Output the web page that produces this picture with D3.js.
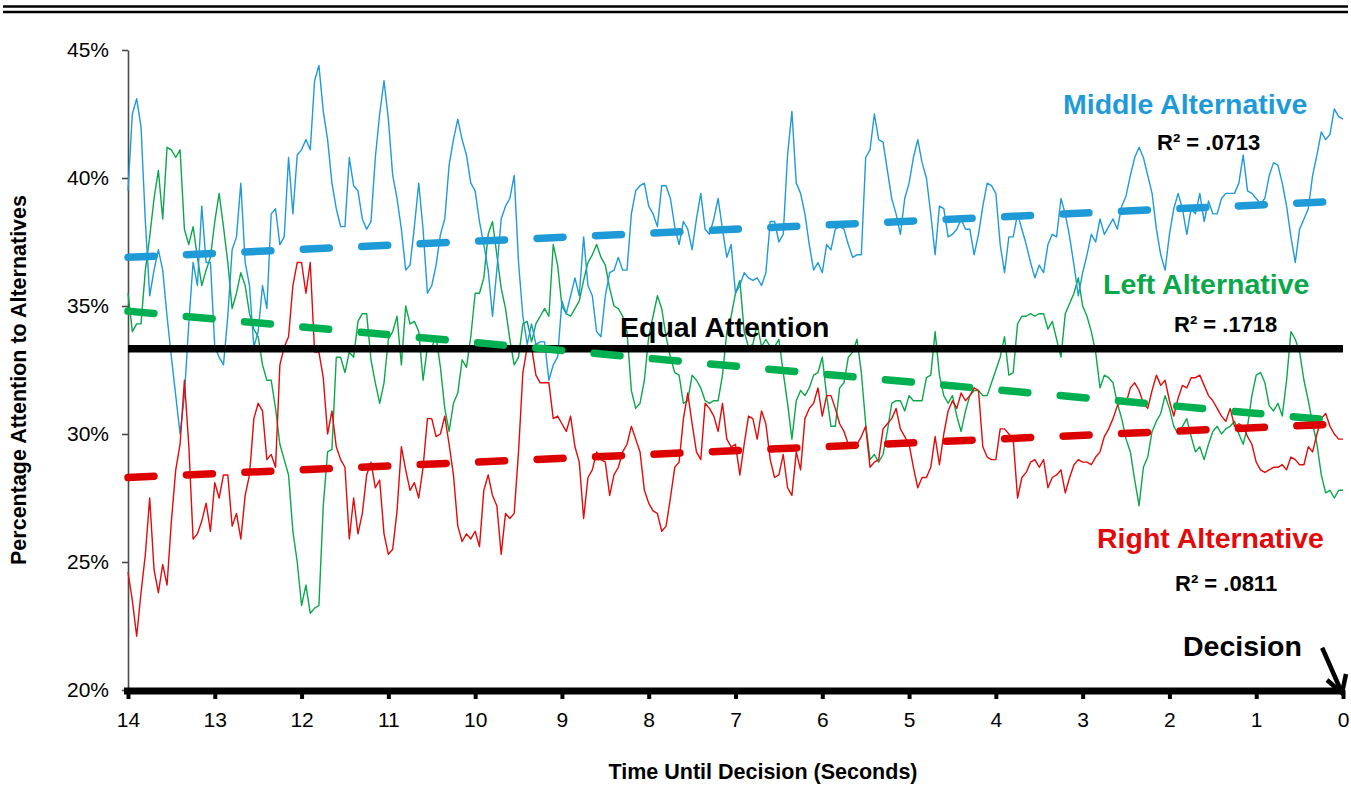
<!DOCTYPE html>
<html>
<head>
<meta charset="utf-8">
<script src="https://cdn.jsdelivr.net/npm/d3@7"></script>
<style>
  html, body { margin: 0; padding: 0; background: #fff; }
  svg { display: block; }
  text { font-family: "Liberation Sans", Arial, Helvetica, sans-serif; }
</style>
</head>
<body>
<svg id="chart" width="1351" height="810"></svg>
<script>
// Seconds before the decision (axis runs from 14 down to 0)
const secondsTicks = [14, 13, 12, 11, 10, 9, 8, 7, 6, 5, 4, 3, 2, 1, 0];
const percentTicks = [20, 25, 30, 35, 40, 45];
const startSecond = 14;
const sampleStep = 0.05; // one reading every 50 ms

// Share of attention (%) on each alternative, one value per sample
const middleAlternative = [
  39.5, 42.5, 43.1, 42.0, 38.3, 35.4, 36.4, 37.2, 36.4, 34.6,
  33.0, 31.5, 30.0, 31.5, 34.3, 36.7, 35.8, 38.9, 36.7, 36.7,
  33.4, 33.0, 32.7, 34.6, 37.2, 37.7, 39.8, 36.7, 35.8, 33.4,
  34.0, 35.8, 34.9, 38.6, 38.8, 37.4, 37.7, 40.8, 38.6, 40.9,
  41.1, 41.5, 41.1, 43.8, 44.4, 42.6, 41.5, 39.8, 38.8, 38.1,
  38.1, 40.8, 39.7, 39.5, 38.4, 38.0, 38.3, 40.8, 42.5, 43.8,
  42.3, 40.1, 39.2, 38.0, 36.4, 36.6, 38.1, 39.8, 38.0, 35.5,
  35.8, 36.6, 37.8, 38.4, 40.5, 41.5, 42.3, 41.5, 40.9, 39.8,
  39.5, 38.3, 37.4, 36.4, 34.6, 36.4, 38.4, 38.9, 39.2, 40.1,
  36.7, 34.6, 33.5, 34.3, 33.5, 33.6, 33.6, 32.1, 32.7, 33.0,
  35.2, 34.7, 35.4, 36.1, 35.4, 37.7, 35.8, 35.4, 34.0, 33.8,
  35.4, 36.3, 36.4, 36.9, 36.4, 36.4, 38.6, 39.5, 39.7, 39.8,
  38.9, 38.6, 38.1, 39.7, 39.7, 39.2, 38.1, 37.4, 38.3, 38.0,
  37.2, 38.4, 39.4, 38.0, 37.8, 38.4, 39.2, 38.0, 36.9, 37.4,
  35.5, 35.8, 36.3, 36.1, 36.0, 36.1, 35.8, 36.3, 38.3, 38.3,
  37.5, 37.8, 40.9, 42.6, 39.8, 39.4, 38.6, 37.4, 36.4, 36.7,
  36.3, 37.4, 37.2, 38.0, 38.1, 38.0, 37.4, 36.9, 37.0, 37.0,
  40.8, 41.1, 42.5, 41.5, 41.4, 40.3, 39.2, 38.6, 37.8, 39.2,
  39.8, 40.8, 41.5, 40.6, 40.0, 38.6, 37.0, 38.9, 38.8, 37.7,
  37.8, 38.0, 38.4, 38.0, 38.0, 37.0, 37.8, 38.9, 39.8, 39.7,
  39.4, 37.4, 36.3, 37.7, 37.7, 38.6, 38.0, 37.4, 36.7, 36.1,
  36.6, 36.3, 37.4, 37.8, 37.7, 39.2, 38.6, 37.7, 36.6, 35.4,
  36.3, 37.0, 37.8, 37.5, 38.4, 37.8, 38.1, 38.4, 38.0, 38.9,
  39.3, 40.1, 40.8, 41.2, 40.8, 40.1, 39.4, 38.0, 37.0, 36.4,
  37.8, 38.8, 39.4, 38.8, 37.8, 38.8, 38.6, 39.4, 38.3, 39.1,
  38.6, 38.6, 39.2, 39.4, 39.4, 39.4, 39.8, 40.9, 39.5, 39.4,
  39.2, 39.0, 39.2, 40.1, 40.6, 40.5, 39.8, 38.9, 37.7, 36.7,
  38.0, 38.4, 38.8, 40.1, 40.9, 41.8, 41.5, 41.7, 42.7, 42.4,
  42.3
];

const leftAlternative = [
  35.5, 34.0, 34.3, 34.3, 36.4, 37.7, 39.2, 40.3, 38.4, 41.2,
  41.1, 40.8, 41.1, 38.0, 37.4, 38.1, 36.9, 35.8, 36.4, 36.9,
  38.3, 39.4, 38.1, 36.7, 34.9, 35.5, 36.3, 35.8, 34.7, 34.1,
  33.8, 32.7, 32.1, 32.1, 31.0, 29.6, 29.0, 28.4, 26.2, 25.0,
  23.3, 24.1, 23.0, 23.2, 23.3, 27.2, 29.3, 29.4, 33.0, 33.0,
  32.4, 33.2, 33.0, 34.4, 34.7, 34.7, 32.9, 32.0, 31.2, 32.0,
  33.7, 34.0, 34.6, 32.7, 35.0, 34.3, 34.4, 34.0, 32.1, 33.4,
  33.4, 33.8, 32.6, 31.0, 30.1, 31.2, 31.6, 32.9, 32.6, 33.8,
  35.5, 35.5, 36.1, 37.8, 38.3, 37.0, 35.7, 34.9, 33.7, 32.7,
  33.0, 34.3, 34.4, 33.6, 34.3, 34.6, 34.9, 34.6, 37.4, 36.6,
  35.0, 34.7, 34.6, 34.9, 35.2, 36.0, 36.7, 37.0, 37.4, 36.9,
  36.6, 35.7, 35.0, 34.9, 34.6, 34.0, 31.7, 31.0, 31.2, 32.1,
  33.8, 34.6, 35.4, 34.9, 33.8, 33.0, 32.4, 32.3, 31.2, 31.3,
  32.3, 32.1, 31.8, 31.3, 31.2, 31.3, 31.3, 32.3, 34.0, 34.6,
  35.5, 36.0, 34.0, 33.4, 33.5, 34.3, 33.4, 33.7, 33.4, 33.4,
  33.7, 32.4, 31.2, 29.8, 31.3, 31.7, 31.5, 31.8, 32.3, 32.4,
  33.0, 31.5, 30.3, 30.3, 31.8, 32.0, 33.0, 33.2, 33.7, 32.4,
  30.4, 29.0, 29.2, 28.9, 29.2, 30.1, 31.2, 31.3, 31.3, 30.9,
  31.5, 31.3, 31.3, 31.3, 32.2, 32.3, 34.0, 32.3, 31.5, 31.2,
  31.5, 30.7, 30.1, 30.9, 31.5, 31.7, 31.7, 31.5, 31.5, 32.0,
  32.5, 33.0, 33.8, 32.3, 32.4, 34.3, 34.6, 34.6, 34.7, 34.6,
  34.7, 34.7, 34.1, 34.4, 33.7, 33.0, 34.7, 35.1, 35.5, 36.1,
  35.0, 34.6, 34.0, 33.2, 31.8, 32.3, 32.2, 32.0, 31.2, 30.6,
  29.8, 29.3, 28.2, 27.2, 28.7, 29.1, 30.1, 30.5, 30.8, 31.5,
  31.0, 30.3, 30.0, 30.3, 30.6, 29.9, 29.3, 29.5, 29.0, 29.6,
  30.1, 30.3, 30.0, 30.2, 30.3, 30.5, 30.0, 29.6, 30.3, 31.5,
  32.3, 32.4, 32.0, 31.1, 30.9, 31.2, 30.7, 32.1, 34.0, 33.7,
  33.2, 32.1, 31.3, 30.4, 29.6, 28.4, 27.7, 27.8, 27.5, 27.8,
  27.8
];

const rightAlternative = [
  24.6, 23.5, 22.1, 23.8, 25.3, 27.5, 24.7, 23.8, 24.9, 24.1,
  26.6, 28.6, 29.6, 32.1, 29.6, 25.9, 26.1, 26.6, 27.3, 26.2,
  28.1, 27.5, 28.4, 28.4, 26.4, 26.9, 25.9, 27.6, 28.4, 30.6,
  31.2, 30.9, 29.0, 29.2, 28.7, 32.7, 33.4, 33.8, 35.8, 36.7,
  36.7, 35.5, 36.7, 33.2, 33.2, 32.2, 30.0, 30.9, 29.5, 29.0,
  28.7, 25.9, 27.5, 26.1, 26.9, 28.4, 28.9, 27.9, 28.2, 26.1,
  25.3, 25.5, 27.0, 29.5, 28.6, 27.8, 28.1, 27.5, 28.7, 30.6,
  30.6, 29.9, 30.0, 30.7, 29.6, 28.4, 26.4, 25.8, 26.1, 25.9,
  26.2, 25.6, 27.8, 28.4, 27.6, 27.2, 25.3, 26.9, 26.7, 26.9,
  29.3, 32.4, 33.4, 33.4, 32.3, 32.0, 32.0, 32.0, 30.6, 30.7,
  30.4, 30.1, 30.7, 29.5, 28.9, 26.7, 28.3, 28.6, 29.3, 29.0,
  28.9, 27.6, 28.4, 28.7, 29.3, 29.6, 30.3, 29.8, 29.3, 27.8,
  27.3, 27.0, 26.9, 26.2, 26.4, 27.5, 28.7, 28.9, 30.6, 31.6,
  30.4, 29.3, 29.0, 31.2, 31.0, 30.7, 30.1, 31.2, 29.8, 29.5,
  29.6, 28.4, 29.6, 30.7, 30.6, 29.8, 30.9, 30.4, 29.0, 28.3,
  28.4, 29.2, 27.9, 27.6, 29.3, 28.6, 30.6, 31.0, 31.2, 31.8,
  30.7, 31.5, 31.5, 31.0, 30.4, 30.1, 29.6, 29.5, 29.6, 29.9,
  30.3, 28.7, 28.9, 29.0, 30.2, 30.4, 30.6, 31.0, 30.2, 29.9,
  29.6, 28.7, 27.9, 28.3, 28.3, 28.7, 29.9, 28.8, 30.0, 30.9,
  31.3, 31.0, 31.6, 31.3, 31.5, 31.8, 31.7, 29.5, 29.1, 29.0,
  29.0, 30.2, 30.2, 30.0, 29.8, 27.5, 28.3, 28.5, 28.9, 29.0,
  28.7, 29.0, 27.9, 28.3, 28.4, 28.6, 27.7, 28.3, 28.8, 29.0,
  28.9, 28.9, 28.8, 29.1, 29.3, 29.9, 30.2, 30.6, 31.1, 31.3,
  31.2, 31.8, 32.0, 31.7, 31.2, 31.0, 31.7, 32.3, 31.9, 32.1,
  31.3, 30.7, 31.4, 31.9, 31.8, 32.2, 32.2, 32.3, 31.9, 31.5,
  31.3, 31.0, 30.7, 30.5, 31.0, 30.3, 30.4, 30.3, 29.9, 29.6,
  28.9, 28.6, 28.5, 28.6, 28.7, 28.7, 28.8, 28.6, 29.1, 29.0,
  28.8, 28.8, 29.5, 29.3, 30.0, 30.6, 30.8, 30.3, 30.0, 29.8,
  29.8
];

// Linear trend lines: value at 14 s and at 0 s
const trendSeconds = [14, 0];
const trendMiddle = [36.9, 39.1];
const trendLeft = [34.8, 30.5];
const trendRight = [28.3, 30.4];
const equalShare = 100 / 3;

const seriesNames = ["Middle Alternative", "Left Alternative", "Right Alternative"];
const rSquaredLabels = ["R\u00B2 = .0713", "R\u00B2 = .1718", "R\u00B2 = .0811"];

const colors = {
  middle: "#1f9ad8",
  left: "#0aa84a",
  right: "#e20a0a",
  middleTrend: "#1e9ad6",
  leftTrend: "#00b050",
  rightTrend: "#dd0000"
};

const svg = d3.select("#chart");
const plot = { left: 128, right: 1343, top: 50, bottom: 690 };

const x = d3.scaleLinear().domain([14, 0]).range([plot.left, plot.right]);
const y = d3.scaleLinear().domain([20, 45]).range([plot.bottom, plot.top]);

// double rule across the top of the page
[6.5, 12].forEach(yy => {
  svg.append("line")
    .attr("x1", 3).attr("x2", 1348)
    .attr("y1", yy).attr("y2", yy)
    .attr("stroke", "#000").attr("stroke-width", 2.6);
});

// vertical axis
const yAxis = d3.axisLeft(y)
  .tickValues(percentTicks)
  .tickFormat(d => d + "%")
  .tickSize(6)
  .tickSizeOuter(0)
  .tickPadding(13);
const yg = svg.append("g")
  .attr("transform", `translate(${plot.left},0)`)
  .call(yAxis);
yg.select(".domain").attr("stroke", "#4a4a4a").attr("stroke-width", 1.6);
yg.selectAll(".tick line").attr("stroke", "#4a4a4a").attr("stroke-width", 1.6);
yg.selectAll(".tick text")
  .attr("fill", "#000")
  .style("font-size", "21px")
  .style("font-family", '"Liberation Sans", Arial, sans-serif');

// thin attention traces
const sampleTime = i => startSecond - i * sampleStep;
const trace = d3.line()
  .x((d, i) => x(sampleTime(i)))
  .y(d => y(d));

const traces = [
  { values: leftAlternative, color: colors.left },
  { values: middleAlternative, color: colors.middle },
  { values: rightAlternative, color: colors.right }
];
traces.forEach(s => {
  svg.append("path")
    .datum(s.values)
    .attr("d", trace)
    .attr("fill", "none")
    .attr("stroke", s.color)
    .attr("stroke-width", 1.4)
    .attr("stroke-linejoin", "round");
});

// equal-attention reference at one third
svg.append("line")
  .attr("x1", x(14)).attr("x2", x(0))
  .attr("y1", y(equalShare)).attr("y2", y(equalShare))
  .attr("stroke", "#000").attr("stroke-width", 7.5);

// dashed linear trends
const trendLine = d3.line()
  .x((d, i) => x(trendSeconds[i]))
  .y(d => y(d));
[
  { values: trendMiddle, color: colors.middleTrend },
  { values: trendLeft, color: colors.leftTrend },
  { values: trendRight, color: colors.rightTrend }
].forEach(t => {
  svg.append("path")
    .datum(t.values)
    .attr("d", trendLine)
    .attr("fill", "none")
    .attr("stroke", t.color)
    .attr("stroke-width", 7.5)
    .attr("stroke-linecap", "round")
    .attr("stroke-dasharray", "26 32.5");
});

// horizontal axis: heavy bar with square tick marks
const xAxis = d3.axisBottom(x)
  .tickValues(secondsTicks)
  .tickFormat(d3.format("d"))
  .tickSize(9)
  .tickSizeOuter(0)
  .tickPadding(13);
const xg = svg.append("g")
  .attr("transform", `translate(0,${plot.bottom})`)
  .call(xAxis);
xg.select(".domain").remove();
xg.selectAll(".tick line").attr("stroke", "#000").attr("stroke-width", 4);
xg.selectAll(".tick text")
  .attr("fill", "#000")
  .style("font-size", "21px")
  .style("font-family", '"Liberation Sans", Arial, sans-serif');
svg.append("line")
  .attr("x1", plot.left - 4).attr("x2", x(0))
  .attr("y1", plot.bottom + 1).attr("y2", plot.bottom + 1)
  .attr("stroke", "#000").attr("stroke-width", 7);

// axis titles
svg.append("text")
  .attr("x", 763).attr("y", 779)
  .attr("text-anchor", "middle")
  .style("font-size", "21.5px").style("font-weight", "bold")
  .text("Time Until Decision (Seconds)");
svg.append("text")
  .attr("transform", "translate(26,380) rotate(-90)")
  .attr("text-anchor", "middle")
  .style("font-size", "21.5px").style("font-weight", "bold")
  .text("Percentage Attention to Alternatives");

// series and fit annotations
const notes = [
  { text: seriesNames[0], x: 1063, y: 114, size: 28.5, color: colors.middle },
  { text: rSquaredLabels[0], x: 1157, y: 150, size: 22, color: "#000" },
  { text: seriesNames[1], x: 1103, y: 294, size: 28.5, color: colors.left },
  { text: rSquaredLabels[1], x: 1174, y: 332, size: 22, color: "#000" },
  { text: seriesNames[2], x: 1097, y: 548, size: 28.5, color: colors.right },
  { text: rSquaredLabels[2], x: 1175, y: 591, size: 22, color: "#000" },
  { text: "Equal Attention", x: 620, y: 337, size: 28.5, color: "#000" },
  { text: "Decision", x: 1183, y: 656, size: 28.5, color: "#000" }
];
notes.forEach(n => {
  svg.append("text")
    .attr("x", n.x).attr("y", n.y)
    .attr("fill", n.color)
    .style("font-size", n.size + "px")
    .style("font-weight", "bold")
    .text(n.text);
});

// arrow pointing at the moment of decision
const tip = [x(0) - 1, y(20) + 3];
const tail = [x(0.24), y(21.65)];
svg.append("line")
  .attr("x1", tail[0]).attr("y1", tail[1])
  .attr("x2", tip[0]).attr("y2", tip[1])
  .attr("stroke", "#000").attr("stroke-width", 4.5);
svg.append("path")
  .attr("d", `M${tip[0] - 15},${tip[1] - 13} L${tip[0]},${tip[1]} L${tip[0] + 4},${tip[1] - 19}`)
  .attr("fill", "none")
  .attr("stroke", "#000")
  .attr("stroke-width", 4.5)
  .attr("stroke-linejoin", "miter");
</script>
</body>
</html>
